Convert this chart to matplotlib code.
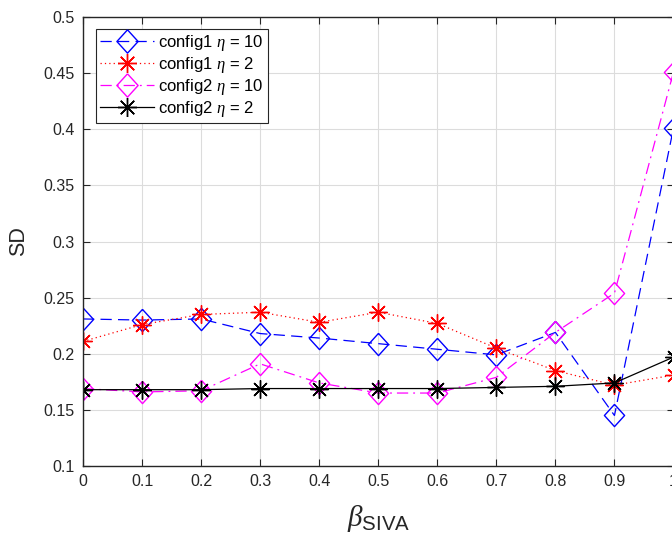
import os

os.environ.setdefault("MPLBACKEND", "Agg")
import matplotlib.pyplot as plt

beta = [0.0, 0.1, 0.2, 0.3, 0.4, 0.5, 0.6, 0.7, 0.8, 0.9, 1.0]
cfg1_eta10 = [0.231, 0.230, 0.231, 0.218, 0.214, 0.209, 0.204, 0.199, 0.219, 0.145, 0.401]
cfg1_eta2 = [0.211, 0.226, 0.235, 0.237, 0.228, 0.237, 0.227, 0.205, 0.185, 0.172, 0.181]
cfg2_eta10 = [0.169, 0.166, 0.167, 0.191, 0.174, 0.165, 0.165, 0.179, 0.219, 0.254, 0.451]
cfg2_eta2 = [0.168, 0.168, 0.168, 0.169, 0.169, 0.169, 0.169, 0.170, 0.171, 0.174, 0.197]

x_ticks = [0.0, 0.1, 0.2, 0.3, 0.4, 0.5, 0.6, 0.7, 0.8, 0.9, 1.0]
x_labels = ["0", "0.1", "0.2", "0.3", "0.4", "0.5", "0.6", "0.7", "0.8", "0.9", "1"]
y_ticks = [0.1, 0.15, 0.2, 0.25, 0.3, 0.35, 0.4, 0.45, 0.5]
y_labels = ["0.1", "0.15", "0.2", "0.25", "0.3", "0.35", "0.4", "0.45", "0.5"]

plt.rcParams["font.family"] = ["Liberation Sans", "DejaVu Sans"]
plt.rcParams["mathtext.fontset"] = "custom"
plt.rcParams["mathtext.rm"] = "Liberation Sans"
plt.rcParams["mathtext.it"] = "Liberation Serif:italic"

# matlab-like markers: slightly tall diamond and 8-spoke asterisk
diamond = [(0, 1.1), (1, 0), (0, -1.1), (-1, 0), (0, 1.1)]
star = (8, 2, 0)

fig = plt.figure(figsize=(6.72, 5.45), dpi=100)
ax = fig.add_axes([83 / 672, 79 / 545, 590.5 / 672, 449 / 545])

ax.plot(beta, cfg1_eta10, color="#0000ff", lw=0.9, dashes=(9, 5), marker=diamond,
        ms=16, mfc="none", mew=1.0, label=r"config1 $\eta$ = 10")
ax.plot(beta, cfg1_eta2, color="#ff0000", lw=0.9, ls=(0, (1, 2.5)), marker=star,
        ms=13, mew=1.0, label=r"config1 $\eta$ = 2")
ax.plot(beta, cfg2_eta10, color="#ff00ff", lw=0.9, ls=(0, (9, 4, 1.5, 4)), marker=diamond,
        ms=16, mfc="none", mew=1.0, label=r"config2 $\eta$ = 10")
ax.plot(beta, cfg2_eta2, color="black", lw=0.9, ls="-", marker=star,
        ms=13, mew=1.0, label=r"config2 $\eta$ = 2")

ax.set_xlim(0, 1)
ax.set_ylim(0.1, 0.5)
ax.set_xticks(x_ticks)
ax.set_xticklabels(x_labels)
ax.set_yticks(y_ticks)
ax.set_yticklabels(y_labels)
ax.tick_params(direction="in", top=True, right=True, length=5, width=0.8,
               labelsize=11.5, colors="#262626", pad=6)
ax.grid(True, color="#dcdcdc", lw=0.8)
ax.set_axisbelow(True)
for spine in ax.spines.values():
    spine.set_color("#262626")
    spine.set_linewidth(1.0)

ax.set_ylabel("SD", fontsize=15.5, color="#262626", labelpad=10)
ax.set_xlabel(r"$\beta_{\mathrm{SIVA}}$", fontsize=21, color="#262626", labelpad=10)

leg = ax.legend(loc="upper left", bbox_to_anchor=(96 / 672, 1 - 29 / 545),
                bbox_transform=fig.transFigure, borderaxespad=0, fontsize=12,
                frameon=True, fancybox=False, framealpha=1, edgecolor="#262626",
                handlelength=3.2, handletextpad=0.3, labelspacing=0.12,
                borderpad=0.25, markerscale=1.05)
leg.get_frame().set_linewidth(0.8)

fig.savefig("out.png", dpi=100)
